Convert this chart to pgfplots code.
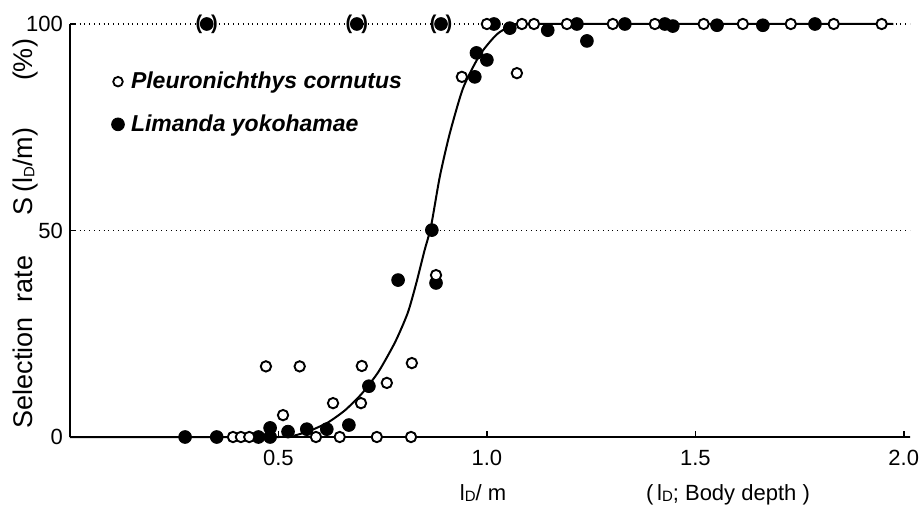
\documentclass[border=0pt]{standalone}
\usepackage{fontspec}
\setmainfont{Liberation Sans}
\usepackage{pgfplots}
\pgfplotsset{compat=1.18}
\newcommand{\lD}{l\raisebox{-0.1ex}{\fontsize{7.5}{8}\selectfont D}}
\pgfplotstableread{
x y
0.391 0
0.410 0
0.430 0
0.590 0
0.647 0
0.736 0
0.818 0
0.511 5.3
0.631 8.2
0.698 8.2
0.760 13.1
0.470 17.1
0.551 17.1
0.700 17.2
0.820 17.9
0.878 39.2
0.940 87.2
1.072 88.1
1.000 100
1.084 100
1.113 100
1.192 100
1.302 100
1.403 100
1.520 100
1.614 100
1.729 100
1.832 100
1.947 100
}\opentab
\pgfplotstableread{
x y
0.276 0
0.352 0
0.452 0
0.480 0
0.480 2.2
0.523 1.3
0.568 1.9
0.616 1.9
0.669 2.9
0.717 12.3
0.787 38.0
0.878 37.3
0.868 50.1
0.971 87.2
0.975 93.0
1.000 91.3
1.017 100
1.055 99.0
1.146 98.5
1.216 100
1.240 95.9
1.331 100
1.427 100
1.446 99.5
1.552 99.7
1.662 99.7
1.787 100
}\filledtab
\pgfplotstableread{
x y
0.328 100
0.688 100
0.890 100
}\parentab
\pgfplotstableread{
x y
0.00 0
0.50 0
0.54 0.4
0.58 1.7
0.62 3.6
0.66 6.5
0.70 10.5
0.74 15.8
0.78 23
0.81 30
0.83 37
0.85 45
0.866 51
0.887 63
0.911 73.5
0.943 84.5
0.983 92.5
1.024 97.5
1.063 99.8
1.10 100
1.975 100
}\curvetab
\begin{document}
\begin{tikzpicture}
\begin{axis}[name=ax, at={(0,0)}, anchor=south west,
 scale only axis, width=420pt, height=206.5pt,
 xmin=0, xmax=2.015, ymin=0, ymax=100,
 axis x line=bottom, axis y line=left,
 axis line style={-, line width=1pt},
 xtick={0.5,1,1.5,2}, xticklabels={0.5,1.0,1.5,2.0},
 ytick={0,50,100}, yticklabels={0,50,100},
 tick align=inside, major tick length=3pt,
 tick style={line width=0.8pt, black},
 ymajorgrids, grid style={dotted, line width=0.7pt, black},
 clip=false,
 tick label style={font=\fontsize{11}{13}\selectfont},
 xticklabel style={yshift=-3pt},
 legend cell align=left,
 legend image code/.code={\draw[#1] plot coordinates {(0pt,0pt)}; \path[draw=none,fill=none] (-4pt,-3pt) rectangle (5.5pt,5pt);},
 legend style={draw=none, fill=none, inner sep=0pt, row sep=9.5pt,
   font=\bfseries\itshape\fontsize{11.5}{13}\selectfont,
   nodes={inner sep=1pt},
   at={(axis cs:0.095,89)}, anchor=north west},
]
\addlegendimage{only marks, mark=*, mark size=2.4pt, mark options={draw=black, fill=white, line width=0.9pt}}
\addlegendentry{Pleuronichthys cornutus}
\addlegendimage{only marks, mark=*, mark size=3.2pt, mark options={draw=black, fill=black}}
\addlegendentry{Limanda yokohamae}
\addplot[forget plot, black, line width=1pt, smooth, tension=0.4] table {\curvetab};
\addplot[forget plot, only marks, mark=*, mark size=3.2pt, mark options={draw=black, fill=black}] table {\filledtab};
\addplot[forget plot, only marks, mark=*, mark size=3.2pt, mark options={draw=black, fill=black},
  nodes near coords={(\hspace{4.5pt})}, every node near coord/.append style={anchor=center, font=\bfseries\fontsize{10}{11}\selectfont, inner sep=0pt}] table {\parentab};
\addplot[forget plot, only marks, mark=*, mark size=2.6pt, mark options={draw=black, fill=white, line width=0.95pt}] table {\opentab};
\end{axis}
\begin{scope}[shift={(ax.south west)}]
\node[rotate=90, anchor=base, font=\fontsize{13.5}{15}\selectfont] at (-18.5pt,47.5pt) {Selection\ \ rate};
\node[rotate=90, anchor=base, font=\fontsize{13.5}{15}\selectfont] at (-18.5pt,132.75pt) {S\,(\lD/m)};
\node[rotate=90, anchor=base, font=\fontsize{13.5}{15}\selectfont] at (-18.5pt,188.5pt) {(\%)};
\node[anchor=base, font=\fontsize{11}{13}\selectfont] at (206.5pt,-31.5pt) {\lD/ m};
\node[anchor=base, font=\fontsize{11}{13}\selectfont] at (329pt,-31.5pt) {(\,\lD; Body depth~)};
\pgfresetboundingbox
\path (-35pt,-33.5pt) rectangle (427pt,218.5pt);
\end{scope}
\end{tikzpicture}
\end{document}
